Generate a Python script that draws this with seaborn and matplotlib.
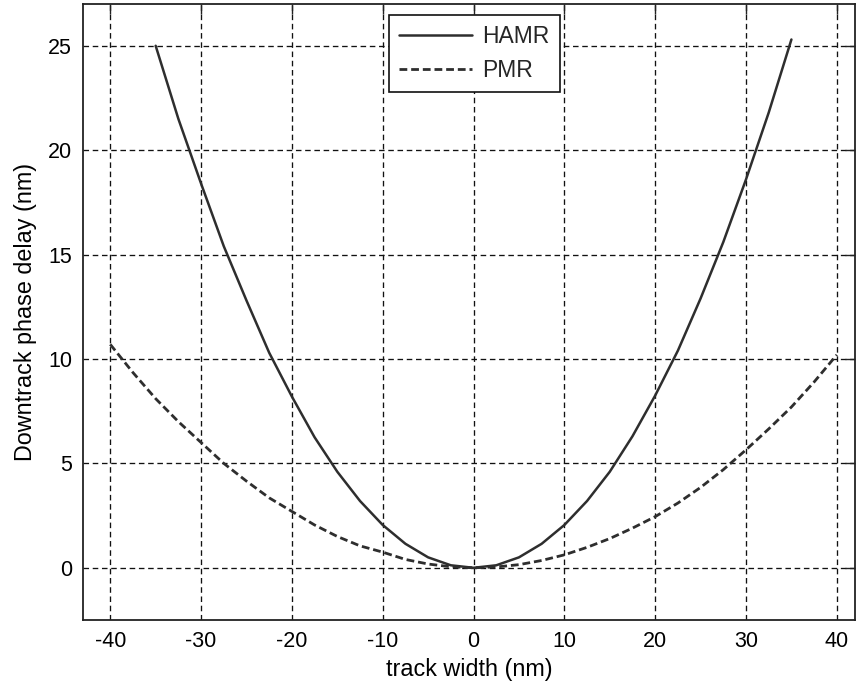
import numpy as np
import pandas as pd
import matplotlib
matplotlib.use("Agg")
import matplotlib.pyplot as plt
import seaborn as sns

# Track-width positions (nm) and downtrack phase delay (nm) for each recording scheme
hamr_x = [-35, -32.5, -30, -27.5, -25, -22.5, -20, -17.5, -15, -12.5, -10, -7.5, -5, -2.5,
          0, 2.5, 5, 7.5, 10, 12.5, 15, 17.5, 20, 22.5, 25, 27.5, 30, 32.5, 35]
hamr_y = [25.0, 21.5, 18.4, 15.4, 12.8, 10.3, 8.2, 6.25, 4.6, 3.2, 2.05, 1.15, 0.5, 0.12,
          0.0, 0.12, 0.5, 1.15, 2.05, 3.2, 4.6, 6.3, 8.25, 10.4, 12.9, 15.6, 18.6, 21.8, 25.3]

pmr_x = [-40, -37.5, -35, -32.5, -30, -27.5, -25, -22.5, -20, -17.5, -15, -12.5, -10, -7.5,
         -5, -2.5, 0, 2.5, 5, 7.5, 10, 12.5, 15, 17.5, 20, 22.5, 25, 27.5, 30, 32.5, 35,
         37.5, 40]
pmr_y = [10.7, 9.35, 8.1, 7.0, 6.0, 5.0, 4.15, 3.35, 2.7, 2.05, 1.5, 1.05, 0.75, 0.4,
         0.18, 0.05, 0.0, 0.04, 0.15, 0.35, 0.62, 0.98, 1.4, 1.9, 2.45, 3.1, 3.85, 4.7,
         5.65, 6.65, 7.7, 8.9, 10.2]

x_ticks = [-40, -30, -20, -10, 0, 10, 20, 30, 40]
y_ticks = [0, 5, 10, 15, 20, 25]

hamr = pd.DataFrame({"track width (nm)": hamr_x, "delay": hamr_y})
pmr = pd.DataFrame({"track width (nm)": pmr_x, "delay": pmr_y})

sns.set_theme(style="white")
plt.rcParams["font.family"] = ["Liberation Sans", "DejaVu Sans"]
plt.rcParams["axes.unicode_minus"] = False

fig = plt.figure(figsize=(8.56, 6.84), dpi=100)
ax = fig.add_axes([83 / 856, 64 / 684, 772 / 856, 616 / 684])

line_color = "#2e2e2e"
sns.lineplot(data=hamr, x="track width (nm)", y="delay", ax=ax, color=line_color,
             linewidth=1.8, label="HAMR", zorder=3)
sns.lineplot(data=pmr, x="track width (nm)", y="delay", ax=ax, color=line_color,
             linewidth=2.0, linestyle=(0, (2.8, 1.4)), label="PMR", zorder=3)

ax.set_xlim(-43, 42)
ax.set_ylim(-2.5, 27)
ax.set_xticks(x_ticks)
ax.set_yticks(y_ticks)
ax.set_xlabel("track width (nm)", fontsize=16.8, color="black", labelpad=4)
ax.set_ylabel("Downtrack phase delay (nm)", fontsize=16.8, color="black", labelpad=8)

ax.grid(True, color="#111111", linestyle=(0, (4.2, 2.8)), linewidth=0.95, zorder=1)
ax.set_axisbelow(True)

ax.tick_params(axis="both", which="major", direction="in", length=7.5, width=1.0,
               colors="#222222", labelcolor="black", labelsize=15.5,
               top=True, right=True, pad=8)

for side in ["left", "right", "top", "bottom"]:
    ax.spines[side].set_visible(True)
    ax.spines[side].set_color("#222222")
    ax.spines[side].set_linewidth(1.3)

leg = ax.legend(loc="upper center", bbox_to_anchor=(0.507, 0.982), fontsize=16.5,
                frameon=True, fancybox=False, shadow=False, framealpha=1.0,
                edgecolor="#111111", handlelength=3.2, handletextpad=0.45,
                borderpad=0.45, labelspacing=0.45, borderaxespad=0.0)
leg.get_frame().set_linewidth(1.2)

fig.savefig("out.png", dpi=100)
